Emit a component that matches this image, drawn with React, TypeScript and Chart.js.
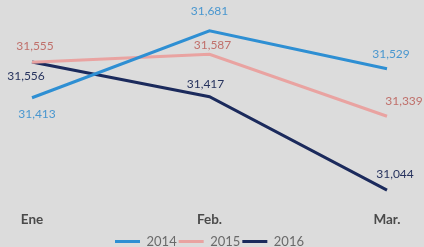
import React, { useEffect, useRef } from "react";
import { Chart, registerables } from "chart.js";
Chart.register(...registerables);

const categories = ["Ene", "Feb.", "Mar."];
const seriesNames = ["2014", "2015", "2016"];
const values2014 = [31413, 31681, 31529];
const values2015 = [31555, 31587, 31339];
const values2016 = [31556, 31417, 31044];

const lineColors = ["#2e8fd3", "#e9a3a1", "#1b2a5c"];
const labelColors = ["#4a97cf", "#c0706b", "#27335e"];
// label offsets (dx, dy) relative to point, per series per point
const labelOffsets = [
  [[5, 16], [0, -20], [4, -15]],
  [[3, -16], [3, -9], [17, -15]],
  [[-6, 14], [-4, -13], [8, -16]],
];

const fmt = (v: number) => v.toLocaleString("en-US");

const labelPlugin = {
  id: "pointLabels",
  afterDatasetsDraw(chart: any) {
    const ctx = chart.ctx;
    ctx.save();
    ctx.font = "12px Lato, 'Noto Sans', sans-serif";
    ctx.textAlign = "center";
    ctx.textBaseline = "middle";
    chart.data.datasets.forEach((ds: any, i: number) => {
      const meta = chart.getDatasetMeta(i);
      meta.data.forEach((pt: any, j: number) => {
        const [dx, dy] = labelOffsets[i][j];
        ctx.fillStyle = labelColors[i];
        ctx.fillText(fmt(ds.data[j]), pt.x + dx, pt.y + dy);
      });
    });
    ctx.restore();
  },
};

export default function App() {
  const ref = useRef<HTMLCanvasElement>(null);
  useEffect(() => {
    document.body.style.margin = "0";
    document.body.style.background = "#dcdcdc";
    const allData = [values2014, values2015, values2016];
    const chart = new Chart(ref.current!, {
      type: "line",
      data: {
        labels: categories,
        datasets: seriesNames.map((n, i) => ({
          label: n,
          data: allData[i],
          borderColor: lineColors[i],
          backgroundColor: lineColors[i],
          borderWidth: 3,
          pointRadius: 0,
          tension: 0,
        })),
      },
      options: {
        animation: false,
        responsive: false,
        maintainAspectRatio: false,
        layout: { padding: { top: 26, left: 32, right: 37, bottom: -11 } },
        scales: {
          x: {
            offset: false,
            grid: { display: false },
            border: { display: false },
            ticks: {
              color: "#4a4a4a",
              font: { family: "Lato, 'Noto Sans', sans-serif", size: 13.5, weight: "bold" },
              padding: 5,
              maxRotation: 0,
              autoSkip: false,
            },
          },
          y: { display: false, min: 31009, max: 31700 },
        },
        plugins: {
          legend: {
            position: "bottom",
            labels: {
              usePointStyle: true,
              pointStyle: "line",
              pointStyleWidth: 25,
              boxWidth: 25,
              color: "#6a6a6a",
              padding: 2,
              font: { family: "Lato, 'Noto Sans', sans-serif", size: 13 },
            },
          },
          tooltip: { enabled: false },
        },
      },
      plugins: [labelPlugin],
    });
    return () => chart.destroy();
  }, []);
  return (
    <div style={{ width: 424, height: 247, background: "#dcdcdc" }}>
      <canvas ref={ref} width={424} height={247} style={{ display: "block" }} />
    </div>
  );
}
